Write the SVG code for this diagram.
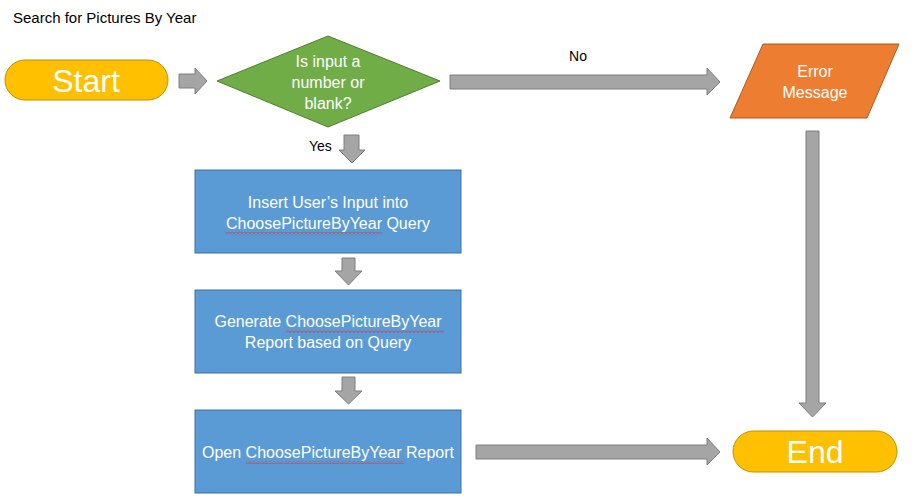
<svg xmlns="http://www.w3.org/2000/svg" width="916" height="501" viewBox="0 0 916 501">
<defs>
<pattern id="squig" x="0" y="0" width="4" height="3" patternUnits="userSpaceOnUse">
<path d="M0,0.5 L2,2.5 L4,0.5" fill="none" stroke="#E03030" stroke-width="0.9"/>
</pattern>
</defs>
<style>
text{font-family:"Liberation Sans","Open Sans",sans-serif;}
.w{fill:#fff;text-anchor:middle;font-size:16px;}
.k{fill:#000;font-size:14px;}
.term{fill:#FFC000;stroke:#BF9000;stroke-width:1;}
.proc{fill:#5B9BD5;stroke:#41719C;stroke-width:1;}
.arr{fill:#A5A5A5;stroke:#7F7F7F;stroke-width:1;}
</style>
<rect width="916" height="501" fill="#fff"/>
<text class="k" x="13" y="23" style="font-size:15px">Search for Pictures By Year</text>
<g id="start">
<rect class="term" x="5" y="60" width="163" height="40" rx="20"/>
<text class="w" x="86" y="92" style="font-size:32px">Start</text>
</g>
<g id="decision">
<polygon points="217,81 328,36 440,81 328,127" fill="#70AD47" stroke="#507E32"/>
<text class="w" x="328" y="67">Is input a</text>
<text class="w" x="328" y="88">number or</text>
<text class="w" x="328" y="109">blank?</text>
</g>
<g id="error">
<polygon points="763,44 899,44 867,118 730,118" fill="#ED7D31" stroke="#AE5A21"/>
<text class="w" x="815" y="77">Error</text>
<text class="w" x="815" y="98">Message</text>
</g>
<g id="insert">
<rect class="proc" x="195" y="170" width="266" height="83"/>
<text class="w" x="328" y="208">Insert User’s Input into</text>
<text class="w" x="328" y="229">ChoosePictureByYear Query</text>
<rect x="226" y="232" width="156" height="3" fill="url(#squig)"/>
</g>
<g id="generate">
<rect class="proc" x="195" y="290" width="266" height="83"/>
<text class="w" x="328" y="327">Generate ChoosePictureByYear</text>
<text class="w" x="328" y="348">Report based on Query</text>
<rect x="286" y="330" width="158" height="3" fill="url(#squig)"/>
</g>
<g id="open">
<rect class="proc" x="195" y="410" width="266" height="83"/>
<text class="w" x="328" y="458">Open ChoosePictureByYear Report</text>
<rect x="246" y="461" width="158" height="3" fill="url(#squig)"/>
</g>
<g id="end">
<rect class="term" x="733" y="431" width="164" height="41" rx="20.5"/>
<text class="w" x="815" y="463" style="font-size:32px">End</text>
</g>
<g id="connectors">
<polygon class="arr" points="179,74 195,74 195,68 207,81 195,94 195,88 179,88"/>
<polygon class="arr" points="450,75 707,75 707,68 720,82 707,95 707,89 450,89"/>
<text class="k" x="578" y="61" text-anchor="middle">No</text>
<polygon class="arr" points="344,135 359,135 359,150 365,150 352,163 339,150 344,150"/>
<text class="k" x="309" y="151">Yes</text>
<polygon class="arr" points="342,258 355,258 355,271 362,271 348.5,285 335,271 342,271"/>
<polygon class="arr" points="342,377 355,377 355,391 362,391 348.5,404 335,391 342,391"/>
<polygon class="arr" points="806,131 819,131 819,403 826,403 812.5,417 799,403 806,403"/>
<polygon class="arr" points="476,445 707,445 707,438 720,452 707,465 707,459 476,459"/>
</g>
</svg>
